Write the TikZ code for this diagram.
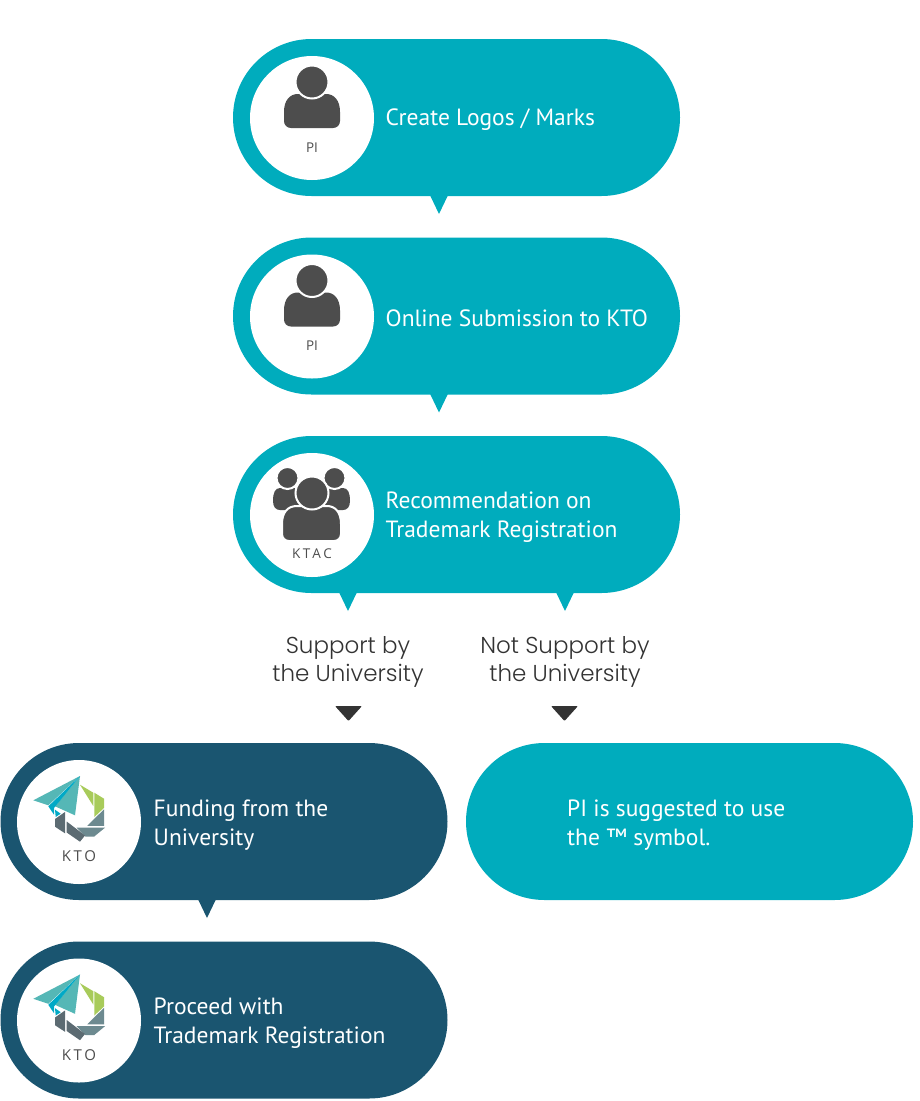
\documentclass[tikz,border=0pt]{standalone}
\usepackage{fontspec}
\usetikzlibrary{shapes.misc,calc}
\setmainfont{PT Sans}
\newfontfamily\lblfont[UprightFont=* Light]{Poppins}
\newfontfamily\iconfont{Open Sans}
\definecolor{tealc}{HTML}{00ACBD}
\definecolor{darkc}{HTML}{1A5570}
\definecolor{iconc}{HTML}{4D4D4D}
\definecolor{lblc}{HTML}{333333}
\definecolor{logoa}{HTML}{55B7B6}
\definecolor{logob}{HTML}{00A9C6}
\definecolor{logoc}{HTML}{A8CB5A}
\definecolor{logod}{HTML}{6D8A90}
\definecolor{logoe}{HTML}{5C6B72}
\tikzset{
  x=1pt,y=-1pt,
  pill/.style={rounded rectangle,minimum width=447pt,minimum height=157pt,inner sep=0pt,fill=#1},
  disc/.style={circle,fill=white,minimum size=124pt,inner sep=0pt},
  pilltext/.style={anchor=west,align=left,text=white,inner sep=0pt,font=\fontsize{23.5}{28.5}\selectfont},
  icontext/.style={text=iconc,inner sep=0pt,font=\iconfont\fontsize{13.5}{15}\selectfont},
  logotext/.style={text=iconc,inner sep=0pt,font=\iconfont\fontsize{15}{15}\selectfont},
  choice/.style={align=center,text=lblc,inner sep=0pt,font=\lblfont\fontsize{23}{28}\selectfont},
  person/.pic={
    \fill[iconc] (-21,46) .. controls (-25,46) and (-28,43) .. (-28,39) -- (-28,30) .. controls (-28,18) and (-22,12) .. (-14,12) -- (14,12) .. controls (22,12) and (28,18) .. (28,30) -- (28,39) .. controls (28,43) and (25,46) .. (21,46) -- cycle;
    \fill[iconc,draw=white,line width=2pt] (0,0) circle (16.5);
  },
  group/.pic={
    \fill[iconc] (-39,8) .. controls (-39,0) and (-37,-5) .. (-32,-5) -- (-12,-5) -- (-12,17) -- (-32,17) .. controls (-36,17) and (-39,14) .. (-39,8) -- cycle;
    \fill[iconc] (38,8) .. controls (38,0) and (36,-5) .. (31,-5) -- (11,-5) -- (11,17) -- (31,17) .. controls (35,17) and (38,14) .. (38,8) -- cycle;
    \fill[iconc,draw=white,line width=2pt] (-24.5,-15) circle (11);
    \fill[iconc,draw=white,line width=2pt] (22.5,-15) circle (11);
    \fill[iconc,draw=white,line width=2pt] (-23,48) .. controls (-27,48) and (-30,45) .. (-30,41) -- (-30,31) .. controls (-30,19) and (-24,13) .. (-15,13) -- (15,13) .. controls (23,13) and (29,19) .. (29,31) -- (29,41) .. controls (29,45) and (26,48) .. (22,48) -- cycle;
    \fill[iconc,draw=white,line width=2pt] (0,0) circle (16.5);
  },
  logo/.pic={
    \fill[logoa] (1,-46) -- (-45.7,-21.7) -- (-30.7,-16.7) -- cycle;
    \fill[logoa] (1,-46) -- (-24,-15.7) -- (-4,-6.7) -- cycle;
    \fill[logob] (1,-46) -- (-30.7,-15.7) -- (-25,-7.3) -- (-25,-14) -- cycle;
    \fill[logob] (-24,-12.3) -- (-18.3,-8.3) -- (-23.3,-5) -- cycle;
    \fill[logoc] (1,-37.3) -- (14.3,-29.3) -- (14.3,-16) -- cycle;
    \fill[logoc] (15.3,-29.3) -- (25,-23.3) -- (25,-14) -- (15.3,-5) -- cycle;
    \fill[logod] (25,-12.7) -- (25,3.8) -- (8.3,3.8) -- cycle;
    \fill[logod] (-2.3,5.7) -- (26,5.7) -- (15,14.7) -- (6.7,14.7) -- cycle;
    \fill[logoe] (-12.3,-0.5) -- (6,13.5) -- (1,19.7) -- (-12.3,10.5) -- cycle;
    \fill[logoe] (-24,-3) -- (-14,-10) -- (-14,11.3) -- (-24,4.7) -- cycle;
  },
}
\begin{document}
\begin{tikzpicture}
\useasboundingbox (0,0) rectangle (919,1101);
% pills
\node[pill=tealc] (p1) at (456.5,117.5) {};
\node[pill=tealc] (p2) at (456.5,316) {};
\node[pill=tealc] (p3) at (456.5,514.5) {};
\node[pill=darkc] (p4) at (224,821.5) {};
\node[pill=darkc] (p5) at (224,1020) {};
\node[pill=tealc] (p6) at (689.5,821.5) {};
% discs
\node[disc] (d1) at (312,118) {};
\node[disc] (d2) at (312,316.5) {};
\node[disc] (d3) at (312,515) {};
\node[disc] (d4) at (79,822) {};
\node[disc] (d5) at (79,1020.5) {};
% icons
\pic at (312,82) {person};
\pic at (312,280.5) {person};
\pic at (312,493) {group};
\pic at (79,822) {logo};
\pic at (79,1020.5) {logo};
\node[icontext] (i1) at (312,148) {PI};
\node[icontext] (i2) at (312,346) {PI};
\node[icontext] (i3) at (312,554) {K\,T\,A\,C};
\node[logotext] (i4) at (79,856) {K\,T\,O};
\node[logotext] (i5) at (79,1055) {K\,T\,O};
% texts
\node[pilltext] (t1) at (385.5,120) {Create Logos / Marks};
\node[pilltext] (t2) at (385.5,318) {Online Submission to KTO};
\node[pilltext] (t3) at (385.5,517) {Recommendation on\\Trademark Registration};
\node[pilltext] (t4) at (153.5,825) {Funding from the\\University};
\node[pilltext] (t5) at (153.5,1023) {Proceed with\\Trademark Registration};
\node[pilltext] (t6) at (567,825) {PI is suggested to use\\the ™ symbol.};
% tails
\coordinate (a1) at (439,214);
\coordinate (a2) at (439,412.5);
\coordinate (a3) at (348,611);
\coordinate (a4) at (565,611);
\coordinate (a5) at (207,918);
\fill[tealc] (a1 |- p1.south) ++(-9,-1) -- ++(18,0) -- (a1) -- cycle;
\fill[tealc] (a2 |- p2.south) ++(-9,-1) -- ++(18,0) -- (a2) -- cycle;
\fill[tealc] (a3 |- p3.south) ++(-9,-1) -- ++(18,0) -- (a3) -- cycle;
\fill[tealc] (a4 |- p3.south) ++(-9,-1) -- ++(18,0) -- (a4) -- cycle;
\fill[darkc] (a5 |- p4.south) ++(-9,-1) -- ++(18,0) -- (a5) -- cycle;
% branch labels
\node[choice] (l1) at (348,662) {Support by\\the University};
\node[choice] (l2) at (565,662) {Not Support by\\the University};
\coordinate (b1) at (348.5,721);
\coordinate (b2) at (564.5,721);
\fill[lblc,rounded corners=1pt] (b1) ++(-13.5,-15) -- ++(27,0) -- (b1) -- cycle;
\fill[lblc,rounded corners=1pt] (b2) ++(-13.5,-15) -- ++(27,0) -- (b2) -- cycle;
\end{tikzpicture}
\end{document}
